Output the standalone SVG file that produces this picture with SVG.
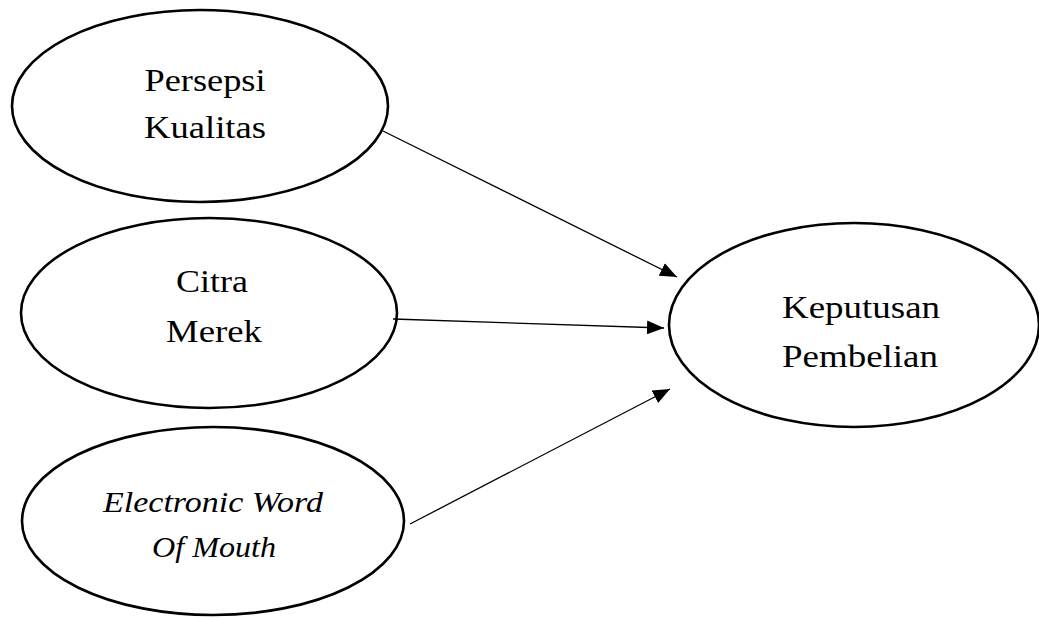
<svg xmlns="http://www.w3.org/2000/svg" width="1039" height="618" viewBox="0 0 1039 618">
<style>
.node ellipse{fill:#fff;stroke:#000;stroke-width:2.6}
.node text{font-family:"Liberation Serif","Times New Roman",serif;font-size:32px;fill:#000;text-anchor:middle}
.node text.it{font-style:italic;font-size:30px}
.conn line{stroke:#000;stroke-width:1.3}
</style>
<defs>
<marker id="arr" viewBox="0 0 17 14" refX="17" refY="7" markerWidth="17" markerHeight="14" markerUnits="userSpaceOnUse" orient="auto">
<path d="M0,0 L17,7 L0,14 Z" fill="#000"/>
</marker>
</defs>
<rect width="1039" height="618" fill="#fff"/>
<g id="n1" class="node">
<ellipse cx="200" cy="106" rx="188" ry="96"/>
<text x="205" y="91" textLength="121" lengthAdjust="spacingAndGlyphs">Persepsi</text>
<text x="205" y="138" textLength="122" lengthAdjust="spacingAndGlyphs">Kualitas</text>
</g>
<g id="n2" class="node">
<ellipse cx="209" cy="313" rx="188" ry="95"/>
<text x="212" y="292" textLength="72" lengthAdjust="spacingAndGlyphs">Citra</text>
<text x="214" y="342" textLength="96" lengthAdjust="spacingAndGlyphs">Merek</text>
</g>
<g id="n3" class="node">
<ellipse cx="213" cy="521" rx="191" ry="94"/>
<text class="it" x="213" y="512" textLength="220" lengthAdjust="spacingAndGlyphs">Electronic Word</text>
<text class="it" x="214" y="557" textLength="124" lengthAdjust="spacingAndGlyphs">Of Mouth</text>
</g>
<g id="n4" class="node">
<ellipse cx="854" cy="325" rx="185" ry="102"/>
<text x="861" y="318" textLength="158" lengthAdjust="spacingAndGlyphs">Keputusan</text>
<text x="860" y="367" textLength="156" lengthAdjust="spacingAndGlyphs">Pembelian</text>
</g>
<g id="connectors" class="conn">
<line x1="383" y1="131" x2="677" y2="277" marker-end="url(#arr)"/>
<line x1="393" y1="319" x2="664" y2="328" marker-end="url(#arr)"/>
<line x1="410" y1="524" x2="670" y2="389" marker-end="url(#arr)"/>
</g>
</svg>
